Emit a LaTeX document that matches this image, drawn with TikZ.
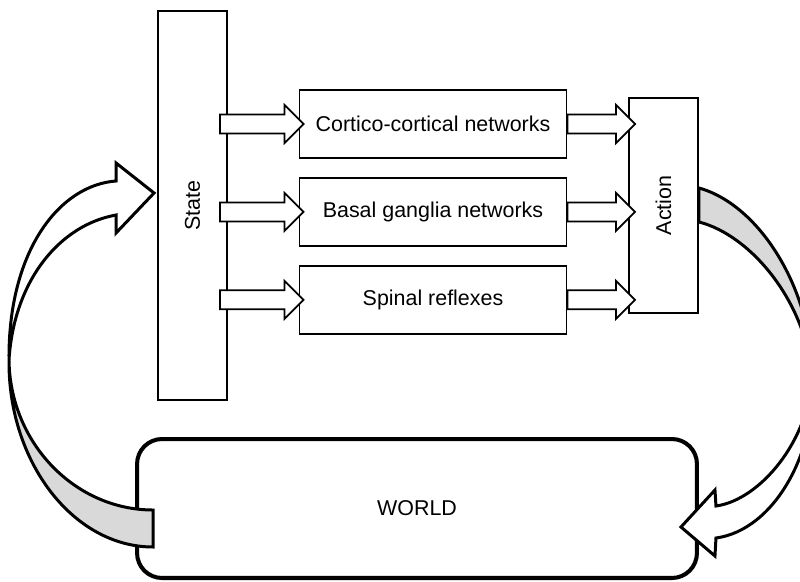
\documentclass[tikz,border=0pt]{standalone}
\usepackage{fontspec}
\setmainfont{Liberation Sans}
\usetikzlibrary{positioning, calc}

% hollow block arrow: x of start, x of tip, row it sits on
\newcommand{\fatarrow}[3]{%
  \path[fatarr] let \p1=(#1), \p2=(#2), \p3=(#3) in
    (\x1,\y3+0.19cm) -- (\x2-0.38cm,\y3+0.19cm) -- (\x2-0.38cm,\y3+0.38cm) -- (\x2,\y3)
    -- (\x2-0.38cm,\y3-0.38cm) -- (\x2-0.38cm,\y3-0.19cm) -- (\x1,\y3-0.19cm) -- cycle;}

\begin{document}
\begin{tikzpicture}[
    x=0.02cm, y=-0.02cm,
    every node/.style={font=\fontsize{12.2}{14}\selectfont},
    box/.style={draw, line width=1.1pt, minimum width=5.34cm, minimum height=1.36cm, align=center},
    sidebox/.style={draw, line width=1.1pt, minimum width=1.38cm},
    worldbox/.style={draw, line width=2.3pt, rounded corners=0.5cm, minimum width=11.2cm, minimum height=2.78cm},
    fatarr/.style={draw, fill=white, line width=1pt, line join=miter},
    ribbon/.style={draw, line width=1.7pt, line join=miter},
    backside/.style={ribbon, fill=gray!30},
    frontside/.style={ribbon, fill=white},
]
\useasboundingbox (0,0) rectangle (800,581);

% ---- State / Action ----
\node[sidebox, minimum height=7.78cm] (state) at (192.5,205.5) {};
\node[rotate=90] (statelbl) at (state.center) {State};
\node[sidebox, minimum height=4.3cm] (action) at (663.5,205.5) {};
\node[rotate=90] (actionlbl) at (action.center) {Action};

% ---- Parallel loops ----
\node[box] (cortico) at (433,124) {Cortico-cortical networks};
\node[box, below=0.36cm of cortico] (basal) {Basal ganglia networks};
\node[box, below=0.36cm of basal] (spinal) {Spinal reflexes};

\fatarrow{[xshift=-0.16cm]state.east}{[xshift=0.1cm]cortico.west}{cortico}
\fatarrow{[xshift=-0.16cm]state.east}{[xshift=0.1cm]basal.west}{basal}
\fatarrow{[xshift=-0.16cm]state.east}{[xshift=0.1cm]spinal.west}{spinal}
\fatarrow{cortico.east}{[xshift=0.14cm]action.west}{cortico}
\fatarrow{basal.east}{[xshift=0.14cm]action.west}{basal}
\fatarrow{spinal.east}{[xshift=0.14cm]action.west}{spinal}

% ---- World ----
\node[worldbox] (world) at (417,508.5) {WORLD};

% ---- World -> State ----
\coordinate (lt1) at ([shift={(18,1.5)}]world.west);
\coordinate (lt2) at ([shift={(18,38.5)}]world.west);
\coordinate (ltip) at ([shift={(-3,-12.5)}]state.west);
\coordinate (ltwist) at (9,360);
\path[backside] (lt1) .. controls (75,510) and (10,443) .. (ltwist)
    .. controls (8,463) and (74,547) .. (lt2) -- cycle;
\path[frontside] (ltwist) .. controls (8,250) and (60,185) .. ([shift={(-38,-12)}]ltip)
    -- ++(0,-18) -- (ltip) -- ++(-38,40) -- ++(0,-18)
    .. controls (60,225) and (14,280) .. (ltwist) -- cycle;

% ---- Action -> World ----
\coordinate (rt1) at ([shift={(0,-17.5)}]action.east);
\coordinate (rt2) at ([shift={(0,16.5)}]action.east);
\coordinate (rtip) at ([shift={(-18,18.5)}]world.east);
\coordinate (rtwist) at (812,375);
\path[backside] (rt1) .. controls (760,205) and (812,290) .. (rtwist)
    .. controls (805,300) and (750,235) .. (rt2) -- cycle;
\path[frontside] (rtwist) .. controls (810,440) and (760,500) .. ([shift={(35,-21)}]rtip)
    -- ++(-1,-16) -- (rtip) -- ++(34,29) -- ++(1,-18)
    .. controls (775,530) and (818,450) .. (rtwist) -- cycle;

\end{tikzpicture}
\end{document}
